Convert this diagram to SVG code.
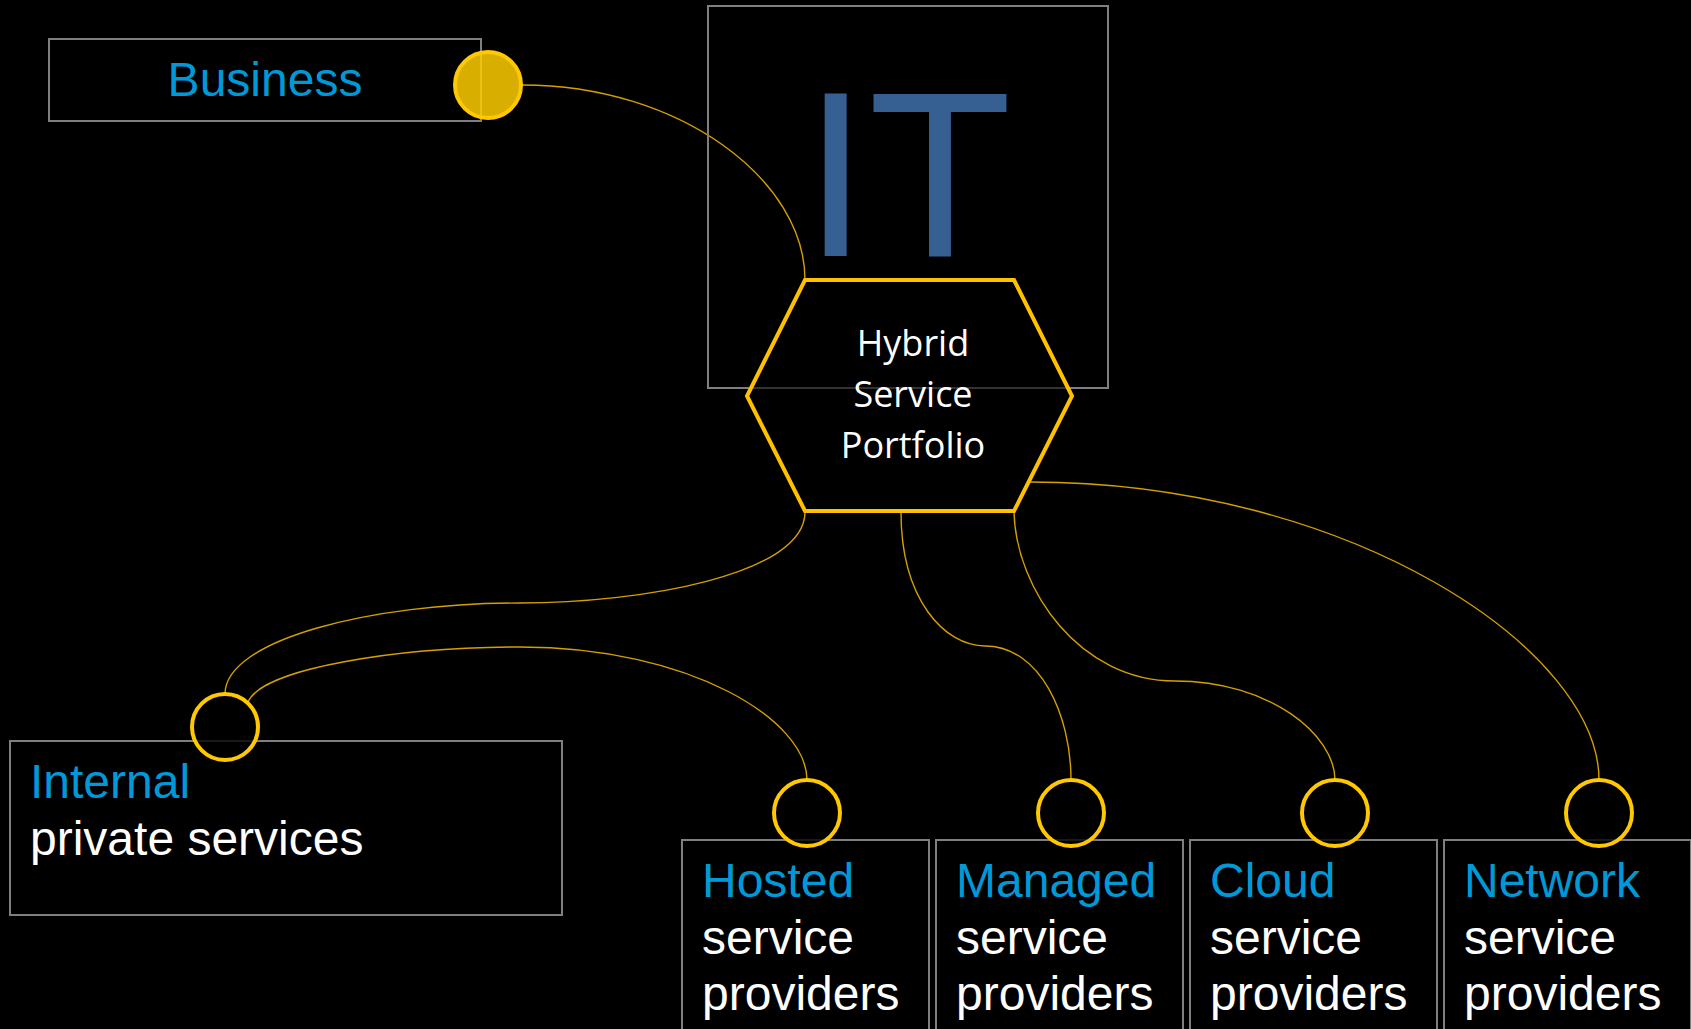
<svg xmlns="http://www.w3.org/2000/svg" width="1691" height="1029" viewBox="0 0 1691 1029">
<style>
.box{fill:none;stroke:#7f7f7f;stroke-width:2}
.port{fill:#000;fill-opacity:0.8;stroke:#ffc800;stroke-width:4}
.conn{fill:none;stroke:#d4a000;stroke-width:1.4}
.lbl{font-family:"Liberation Sans",Arial,sans-serif;font-size:48px}
.blue{fill:#0099d8}
.white{fill:#ffffff}
</style>
<rect x="0" y="0" width="1691" height="1029" fill="#000"/>

<g id="connectors">
<path class="conn" d="M522,85 C680,85 805,180 805,280"/>
<path class="conn" d="M805,512 C805,575 640,603 520,603 C370,603 225,640 225,694"/>
<path class="conn" d="M248,702 C262,668 400,647 520,647 C690,647 807,720 807,780"/>
<path class="conn" d="M901,512 C901,600 945,646 985,646 C1040,646 1071,715 1071,780"/>
<path class="conn" d="M1014,512 C1016,590 1080,681 1175,681 C1270,681 1335,735 1335,780"/>
<path class="conn" d="M1030,482 C1350,482 1599,650 1599,780"/>
</g>

<g id="business">
<rect class="box" x="49" y="39" width="432" height="82"/>
<circle cx="488" cy="85" r="33" fill="#fece00" fill-opacity="0.85" stroke="#ffc800" stroke-width="4"/>
<text class="lbl blue" x="265" y="96" text-anchor="middle">Business</text>
</g>

<g id="it">
<rect class="box" x="708" y="6" width="400" height="382"/>
<text x="803" y="256" font-family="Liberation Sans,Arial,sans-serif" font-size="235" fill="#376092">IT</text>
</g>

<g id="hybrid">
<polygon points="805,280 1014,280 1072,396 1014,511 805,511 747,396" fill="#000" fill-opacity="0.6" stroke="#ffc000" stroke-width="4" stroke-linejoin="miter"/>
<text font-family="Open Sans,Noto Sans,sans-serif" font-size="36" fill="#fff" text-anchor="middle"><tspan x="913" y="356">Hybrid</tspan><tspan x="913" y="407">Service</tspan><tspan x="913" y="458">Portfolio</tspan></text>
</g>

<g id="internal">
<rect class="box" x="10" y="741" width="552" height="174"/>
<circle class="port" cx="225" cy="727" r="33"/>
<text class="lbl" x="30" y="798"><tspan class="blue">Internal</tspan><tspan class="white" x="30" y="855">private services</tspan></text>
</g>

<g id="hosted">
<rect class="box" x="682" y="840" width="247" height="220"/>
<circle class="port" cx="807" cy="813" r="33"/>
<text class="lbl" x="702" y="897"><tspan class="blue">Hosted</tspan><tspan class="white" x="702" y="954">service</tspan><tspan class="white" x="702" y="1010">providers</tspan></text>
</g>

<g id="managed">
<rect class="box" x="936" y="840" width="247" height="220"/>
<circle class="port" cx="1071" cy="813" r="33"/>
<text class="lbl" x="956" y="897"><tspan class="blue">Managed</tspan><tspan class="white" x="956" y="954">service</tspan><tspan class="white" x="956" y="1010">providers</tspan></text>
</g>

<g id="cloud">
<rect class="box" x="1190" y="840" width="247" height="220"/>
<circle class="port" cx="1335" cy="813" r="33"/>
<text class="lbl" x="1210" y="897"><tspan class="blue">Cloud</tspan><tspan class="white" x="1210" y="954">service</tspan><tspan class="white" x="1210" y="1010">providers</tspan></text>
</g>

<g id="network">
<rect class="box" x="1444" y="840" width="247" height="220"/>
<circle class="port" cx="1599" cy="813" r="33"/>
<text class="lbl" x="1464" y="897"><tspan class="blue">Network</tspan><tspan class="white" x="1464" y="954">service</tspan><tspan class="white" x="1464" y="1010">providers</tspan></text>
</g>
</svg>
